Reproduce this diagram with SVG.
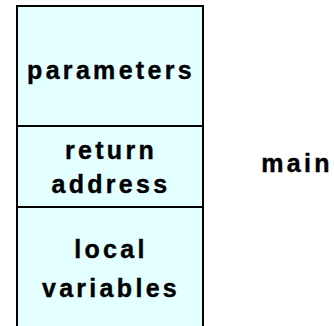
<svg xmlns="http://www.w3.org/2000/svg" width="334" height="326" viewBox="0 0 334 326">
  <style>
    .cell { fill: #E4FFFF; stroke: #000; stroke-width: 2; }
    .lbl { font-family: "Liberation Sans", Arial, sans-serif; font-weight: bold; font-size: 25px; letter-spacing: 3.3px; text-anchor: middle; fill: #000; stroke: #000; stroke-width: 0.4; }
  </style>
  <rect width="334" height="326" fill="#fff"/>
  <!-- stack frame compartments -->
  <g id="parameters">
    <rect class="cell" x="17" y="6" width="186" height="120"/>
    <text class="lbl" x="111" y="79">parameters</text>
  </g>
  <g id="return-address">
    <rect class="cell" x="17" y="126" width="186" height="81"/>
    <text class="lbl" x="111" y="159">return</text>
    <text class="lbl" x="111" y="193">address</text>
  </g>
  <g id="local-variables">
    <rect class="cell" x="17" y="207" width="186" height="140"/>
    <text class="lbl" x="111" y="258">local</text>
    <text class="lbl" x="111" y="297">variables</text>
  </g>
  <g id="main">
    <text class="lbl" x="297" y="172">main</text>
  </g>
</svg>
